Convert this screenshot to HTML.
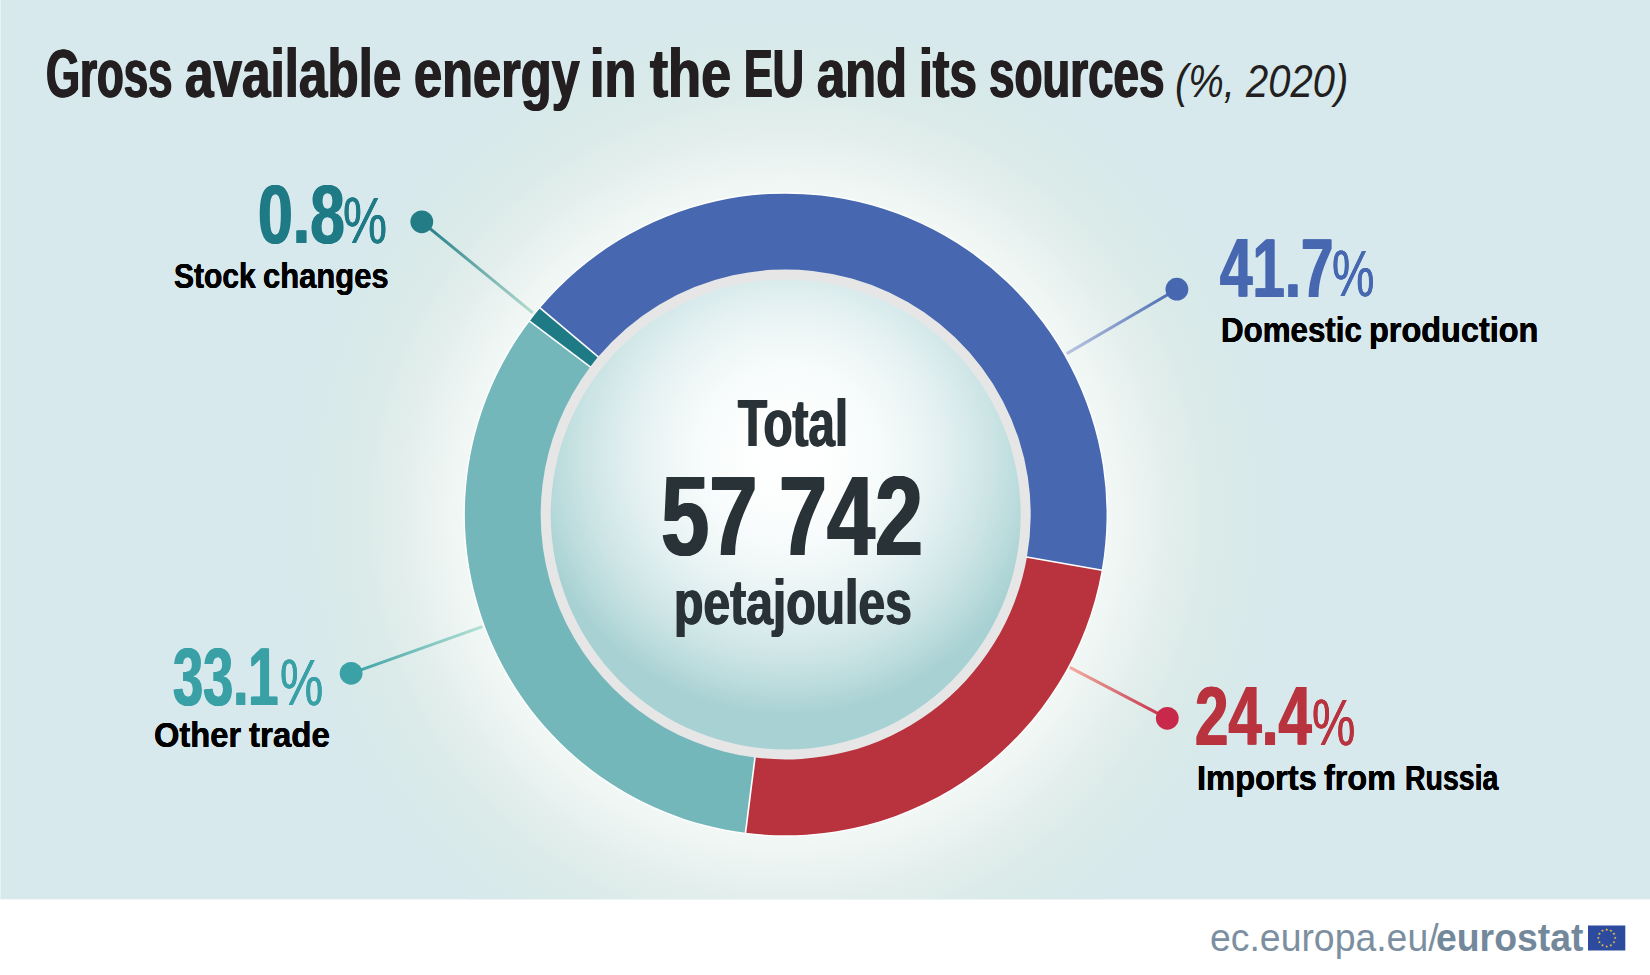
<!DOCTYPE html>
<html lang="en">
<head>
<meta charset="utf-8">
<title>Gross available energy in the EU and its sources</title>
<style>
html,body{margin:0;padding:0;background:#fff;}
body{width:1650px;height:975px;overflow:hidden;position:relative;font-family:"Liberation Sans",sans-serif;}
svg{position:absolute;left:0;top:0;display:block;}
h1,div{margin:0;padding:0;font-size:0;line-height:0;font-weight:700;}
.t{position:absolute;display:block;white-space:pre;line-height:0;height:0;transform-origin:0 0;font-weight:700;font-family:"Liberation Sans",sans-serif;}
</style>
</head>
<body>
<svg width="1650" height="975" viewBox="0 0 1650 975">
<defs>
<radialGradient id="glow" gradientUnits="userSpaceOnUse" cx="785.7" cy="514.5" r="500">
<stop offset="0.000" stop-color="#ffffff"/>
<stop offset="0.584" stop-color="#f7fbf9"/>
<stop offset="0.670" stop-color="#eff6f4"/>
<stop offset="0.778" stop-color="#e2eeec"/>
<stop offset="0.874" stop-color="#d9eae8"/>
<stop offset="0.960" stop-color="#d7e9ea"/>
<stop offset="1.000" stop-color="#d7e9ed"/>
</radialGradient>
<radialGradient id="inner" gradientUnits="userSpaceOnUse" cx="788" cy="455" r="260">
<stop offset="0.0" stop-color="#ffffff"/>
<stop offset="0.1" stop-color="#feffff"/>
<stop offset="0.2" stop-color="#fcfefe"/>
<stop offset="0.3" stop-color="#f9fcfc"/>
<stop offset="0.4" stop-color="#f3f9f9"/>
<stop offset="0.5" stop-color="#ecf5f5"/>
<stop offset="0.6" stop-color="#e3f0f1"/>
<stop offset="0.7" stop-color="#d7eaeb"/>
<stop offset="0.8" stop-color="#cae3e4"/>
<stop offset="0.9" stop-color="#badbdc"/>
<stop offset="1.0" stop-color="#a8d1d3"/>
</radialGradient>
<linearGradient id="l1" gradientUnits="userSpaceOnUse" x1="421.8" y1="221.8" x2="532.8" y2="312.8"><stop offset="0" stop-color="#1e7a85"/><stop offset="1" stop-color="#b4dccf"/></linearGradient><linearGradient id="l2" gradientUnits="userSpaceOnUse" x1="1176.9" y1="289.2" x2="1066.8" y2="353.6"><stop offset="0" stop-color="#4768b0"/><stop offset="1" stop-color="#b9c6e0"/></linearGradient><linearGradient id="l3" gradientUnits="userSpaceOnUse" x1="1167.3" y1="718.3" x2="1069.8" y2="667.3"><stop offset="0" stop-color="#c42a48"/><stop offset="1" stop-color="#f0b0a0"/></linearGradient><linearGradient id="l4" gradientUnits="userSpaceOnUse" x1="351.1" y1="673.3" x2="482.4" y2="626.6"><stop offset="0" stop-color="#39a0a6"/><stop offset="1" stop-color="#b4e0d4"/></linearGradient>
</defs>
<rect x="0" y="0" width="1650" height="975" fill="#ffffff"/>
<rect x="0" y="0" width="1650" height="899.3" fill="#d7e9ed"/>
<rect x="0" y="0" width="1" height="899.3" fill="#eaf3f4"/>
<clipPath id="bgclip"><rect x="0" y="0" width="1650" height="899.3"/></clipPath>
<circle cx="785.7" cy="514.5" r="500" fill="url(#glow)" clip-path="url(#bgclip)"/>
<circle cx="785.7" cy="514.5" r="246.0" fill="#e6e6e6"/>
<circle cx="785.7" cy="514.5" r="235.0" fill="url(#inner)"/>
<circle cx="785.7" cy="514.5" r="321.45" fill="none" stroke="#ffffff" stroke-width="1.4"/>
<path d="M540.09 308.05A320.85 320.85 0 0 1 1101.68 570.22L1026.98 557.04A245.0 245.0 0 0 0 598.16 356.85Z" fill="#4768b0"/><path d="M1101.68 570.22A320.85 320.85 0 0 1 745.49 832.82L754.99 757.57A245.0 245.0 0 0 0 1026.98 557.04Z" fill="#b8333d"/><path d="M745.49 832.82A320.85 320.85 0 0 1 529.63 321.18L590.16 366.88A245.0 245.0 0 0 0 754.99 757.57Z" fill="#74b7bb"/><path d="M529.63 321.18A320.85 320.85 0 0 1 540.09 308.05L598.16 356.85A245.0 245.0 0 0 0 590.16 366.88Z" fill="#1e7a85"/>
<line x1="598.54" y1="357.18" x2="539.71" y2="307.73" stroke="#fff" stroke-width="1.6"/><line x1="1026.49" y1="556.96" x2="1102.17" y2="570.30" stroke="#fff" stroke-width="1.6"/><line x1="755.06" y1="757.07" x2="745.42" y2="833.32" stroke="#fff" stroke-width="1.6"/><line x1="590.56" y1="367.19" x2="529.23" y2="320.88" stroke="#fff" stroke-width="1.6"/>
<line x1="421.8" y1="221.8" x2="532.8" y2="312.8" stroke="url(#l1)" stroke-width="3"/><circle cx="421.8" cy="221.8" r="11.4" fill="#237c86"/><line x1="1176.9" y1="289.2" x2="1066.8" y2="353.6" stroke="url(#l2)" stroke-width="3"/><circle cx="1176.9" cy="289.2" r="11.4" fill="#4768b0"/><line x1="1167.3" y1="718.3" x2="1069.8" y2="667.3" stroke="url(#l3)" stroke-width="3"/><circle cx="1167.3" cy="718.3" r="11.4" fill="#c8294a"/><line x1="351.1" y1="673.3" x2="482.4" y2="626.6" stroke="url(#l4)" stroke-width="3"/><circle cx="351.1" cy="673.3" r="11.4" fill="#3aa1a7"/>
<rect x="1588" y="925.5" width="37.3" height="25" fill="#2d4b9e"/>
<polygon points="1606.70,928.00 1607.06,929.11 1608.22,929.11 1607.28,929.79 1607.64,930.89 1606.70,930.21 1605.76,930.89 1606.12,929.79 1605.18,929.11 1606.34,929.11" fill="#f5c63c"/><polygon points="1610.90,929.13 1611.26,930.23 1612.42,930.23 1611.48,930.91 1611.84,932.02 1610.90,931.34 1609.96,932.02 1610.32,930.91 1609.38,930.23 1610.54,930.23" fill="#f5c63c"/><polygon points="1613.97,932.20 1614.33,933.31 1615.50,933.31 1614.56,933.99 1614.92,935.09 1613.97,934.41 1613.03,935.09 1613.39,933.99 1612.45,933.31 1613.62,933.31" fill="#f5c63c"/><polygon points="1615.10,936.40 1615.46,937.51 1616.62,937.51 1615.68,938.19 1616.04,939.29 1615.10,938.61 1614.16,939.29 1614.52,938.19 1613.58,937.51 1614.74,937.51" fill="#f5c63c"/><polygon points="1613.97,940.60 1614.33,941.71 1615.50,941.71 1614.56,942.39 1614.92,943.49 1613.97,942.81 1613.03,943.49 1613.39,942.39 1612.45,941.71 1613.62,941.71" fill="#f5c63c"/><polygon points="1610.90,943.67 1611.26,944.78 1612.42,944.78 1611.48,945.46 1611.84,946.57 1610.90,945.89 1609.96,946.57 1610.32,945.46 1609.38,944.78 1610.54,944.78" fill="#f5c63c"/><polygon points="1606.70,944.80 1607.06,945.91 1608.22,945.91 1607.28,946.59 1607.64,947.69 1606.70,947.01 1605.76,947.69 1606.12,946.59 1605.18,945.91 1606.34,945.91" fill="#f5c63c"/><polygon points="1602.50,943.67 1602.86,944.78 1604.02,944.78 1603.08,945.46 1603.44,946.57 1602.50,945.89 1601.56,946.57 1601.92,945.46 1600.98,944.78 1602.14,944.78" fill="#f5c63c"/><polygon points="1599.43,940.60 1599.78,941.71 1600.95,941.71 1600.01,942.39 1600.37,943.49 1599.43,942.81 1598.48,943.49 1598.84,942.39 1597.90,941.71 1599.07,941.71" fill="#f5c63c"/><polygon points="1598.30,936.40 1598.66,937.51 1599.82,937.51 1598.88,938.19 1599.24,939.29 1598.30,938.61 1597.36,939.29 1597.72,938.19 1596.78,937.51 1597.94,937.51" fill="#f5c63c"/><polygon points="1599.43,932.20 1599.78,933.31 1600.95,933.31 1600.01,933.99 1600.37,935.09 1599.43,934.41 1598.48,935.09 1598.84,933.99 1597.90,933.31 1599.07,933.31" fill="#f5c63c"/><polygon points="1602.50,929.13 1602.86,930.23 1604.02,930.23 1603.08,930.91 1603.44,932.02 1602.50,931.34 1601.56,932.02 1601.92,930.91 1600.98,930.23 1602.14,930.23" fill="#f5c63c"/>
</svg>
<h1 class="title"><span class="t" style="left:46.13px;top:73.71px;font-size:69px;color:#231f20;transform:scaleX(0.6339);text-shadow:1.10px 0 0 #231f20,-1.10px 0 0 #231f20;">Gross</span> <span class="t" style="left:184.66px;top:73.71px;font-size:69px;color:#231f20;transform:scaleX(0.7422);text-shadow:0.94px 0 0 #231f20,-0.94px 0 0 #231f20;">available</span> <span class="t" style="left:413.58px;top:73.71px;font-size:69px;color:#231f20;transform:scaleX(0.7325);text-shadow:0.96px 0 0 #231f20,-0.96px 0 0 #231f20;">energy</span> <span class="t" style="left:590.34px;top:73.71px;font-size:69px;color:#231f20;transform:scaleX(0.7539);text-shadow:0.93px 0 0 #231f20,-0.93px 0 0 #231f20;">in</span> <span class="t" style="left:649.55px;top:73.71px;font-size:69px;color:#231f20;transform:scaleX(0.7843);text-shadow:0.89px 0 0 #231f20,-0.89px 0 0 #231f20;">the</span> <span class="t" style="left:743.51px;top:73.71px;font-size:69px;color:#231f20;transform:scaleX(0.6236);text-shadow:1.12px 0 0 #231f20,-1.12px 0 0 #231f20;">EU</span> <span class="t" style="left:817.11px;top:73.71px;font-size:69px;color:#231f20;transform:scaleX(0.734);text-shadow:0.95px 0 0 #231f20,-0.95px 0 0 #231f20;">and</span> <span class="t" style="left:918.83px;top:73.71px;font-size:69px;color:#231f20;transform:scaleX(0.7199);text-shadow:0.97px 0 0 #231f20,-0.97px 0 0 #231f20;">its</span> <span class="t" style="left:989.37px;top:73.71px;font-size:69px;color:#231f20;transform:scaleX(0.6627);text-shadow:1.06px 0 0 #231f20,-1.06px 0 0 #231f20;">sources</span> <span class="t" style="left:1174.99px;top:81.5px;font-size:45.5px;font-weight:400;font-style:italic;color:#231f20;transform:scaleX(0.8782);">(%, 2020)</span></h1>
<div class="label l1"><span class="t" style="left:257.54px;top:213.61px;font-size:84px;color:#1e7a85;transform:scaleX(0.744);text-shadow:0.94px 0 0 #1e7a85,-0.94px 0 0 #1e7a85;">0.8</span> <span class="t" style="left:343.46px;top:220.71px;font-size:64.8px;font-weight:400;color:#1e7a85;transform:scaleX(0.764);text-shadow:0.39px 0 0 #1e7a85,-0.39px 0 0 #1e7a85;">%</span> <span class="t" style="left:173.63px;top:276.41px;font-size:35.3px;color:#000;transform:scaleX(0.8505);text-shadow:0.24px 0 0 #000,-0.24px 0 0 #000;">Stock</span> <span class="t" style="left:263.03px;top:276.41px;font-size:35.3px;color:#000;transform:scaleX(0.8772);text-shadow:0.23px 0 0 #000,-0.23px 0 0 #000;">changes</span></div>
<div class="label l2"><span class="t" style="left:1220.49px;top:268.5px;font-size:82.6px;color:#4768b0;transform:scaleX(0.7059);text-shadow:0.99px 0 0 #4768b0,-0.99px 0 0 #4768b0;">41.7</span> <span class="t" style="left:1331.83px;top:274.41px;font-size:64.5px;font-weight:400;color:#4768b0;transform:scaleX(0.7406);text-shadow:0.41px 0 0 #4768b0,-0.41px 0 0 #4768b0;">%</span> <span class="t" style="left:1221.42px;top:330.3px;font-size:35.3px;color:#000;transform:scaleX(0.8864);text-shadow:0.23px 0 0 #000,-0.23px 0 0 #000;">Domestic</span> <span class="t" style="left:1368.86px;top:330.3px;font-size:35.3px;color:#000;transform:scaleX(0.9191);text-shadow:0.22px 0 0 #000,-0.22px 0 0 #000;">production</span></div>
<div class="label l3"><span class="t" style="left:1195.26px;top:715.61px;font-size:83.5px;color:#b8333e;transform:scaleX(0.7187);text-shadow:0.97px 0 0 #b8333e,-0.97px 0 0 #b8333e;">24.4</span> <span class="t" style="left:1312.25px;top:722.61px;font-size:64.5px;font-weight:400;color:#b8333e;transform:scaleX(0.756);text-shadow:0.40px 0 0 #b8333e,-0.40px 0 0 #b8333e;">%</span> <span class="t" style="left:1197.36px;top:778.41px;font-size:35.3px;color:#000;transform:scaleX(0.9256);text-shadow:0.22px 0 0 #000,-0.22px 0 0 #000;">Imports</span> <span class="t" style="left:1324.49px;top:778.41px;font-size:35.3px;color:#000;transform:scaleX(0.917);text-shadow:0.22px 0 0 #000,-0.22px 0 0 #000;">from</span> <span class="t" style="left:1404.59px;top:778.41px;font-size:35.3px;color:#000;transform:scaleX(0.8069);text-shadow:0.25px 0 0 #000,-0.25px 0 0 #000;">Russia</span></div>
<div class="label l4"><span class="t" style="left:172.54px;top:677.3px;font-size:82px;color:#39a0a6;transform:scaleX(0.6606);text-shadow:1.06px 0 0 #39a0a6,-1.06px 0 0 #39a0a6;">33.1</span> <span class="t" style="left:279.64px;top:683.21px;font-size:65.5px;font-weight:400;color:#39a0a6;transform:scaleX(0.7434);text-shadow:0.40px 0 0 #39a0a6,-0.40px 0 0 #39a0a6;">%</span> <span class="t" style="left:154.46px;top:734.8px;font-size:35.3px;color:#000;transform:scaleX(0.9254);text-shadow:0.22px 0 0 #000,-0.22px 0 0 #000;">Other</span> <span class="t" style="left:249.16px;top:734.8px;font-size:35.3px;color:#000;transform:scaleX(0.9378);text-shadow:0.21px 0 0 #000,-0.21px 0 0 #000;">trade</span></div>
<div class="centre"><span class="t" style="left:737.74px;top:422.5px;font-size:66px;color:#293237;transform:scaleX(0.7206);text-shadow:0.97px 0 0 #293237,-0.97px 0 0 #293237;">Total</span> <span class="t" style="left:661.42px;top:516.41px;font-size:112.5px;color:#293237;transform:scaleX(0.7709);text-shadow:1.30px 0 0 #293237,-1.30px 0 0 #293237;">57</span> <span class="t" style="left:778.84px;top:516.41px;font-size:112.5px;color:#293237;transform:scaleX(0.7663);text-shadow:1.30px 0 0 #293237,-1.30px 0 0 #293237;">742</span> <span class="t" style="left:673.57px;top:601.91px;font-size:63px;color:#293237;transform:scaleX(0.7636);text-shadow:0.92px 0 0 #293237,-0.92px 0 0 #293237;">petajoules</span></div>
<div class="footer"><span class="t" style="left:1209.94px;top:938.11px;font-size:38.5px;font-weight:400;color:#7c8fa1;transform:scaleX(0.9707);">ec.europa.eu/</span> <span class="t" style="left:1435.82px;top:938.11px;font-size:38.5px;color:#73889b;transform:scaleX(0.9703);">eurostat</span></div>
</body>
</html>
